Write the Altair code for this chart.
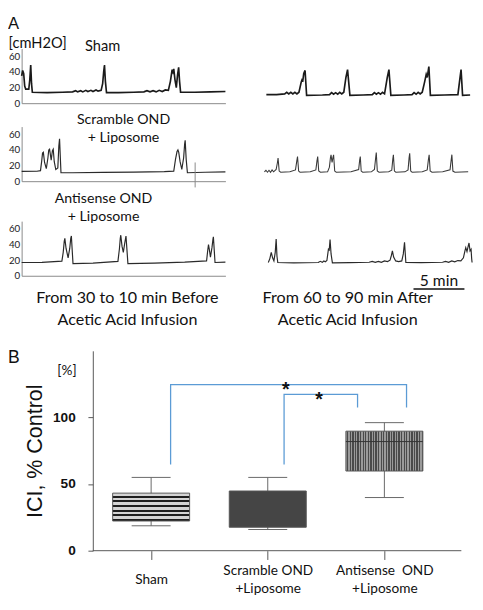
import json
import altair as alt
import pandas as pd

# ---------------- Panel A: cystometry traces (time in min, pressure in cmH2O) -------------
sham_pre_t = [0, 0.1, 0.2, 0.3, 0.4, 0.7, 0.8, 0.89, 0.97, 1.05, 2.5, 4.0, 5.0, 5.3, 5.5, 5.8, 6.0, 6.3, 6.5, 6.8,
              7.0, 7.3, 7.5, 7.8, 7.95, 8.05, 8.13, 8.22, 8.33, 9.5, 11.0, 12.0, 12.3, 12.6, 12.9, 13.2, 13.5, 13.8,
              14.1, 14.4, 14.6, 14.77, 14.85, 14.93, 15.05, 15.18, 15.3, 15.41, 15.5, 15.6, 17.0, 18.5, 20.0]
sham_pre_v = [35, 42, 38, 22, 18, 18, 30, 49, 25, 14, 13.5, 14, 14.5, 16, 14.5, 16, 14.5, 16.5, 15, 16.5,
              15, 17, 15.5, 16.5, 25, 40, 49, 28, 13.5, 13.5, 14, 14.5, 16, 14.5, 16, 14.5, 16.5, 15,
              17, 16.5, 28, 43, 40, 44, 30, 20, 36, 46, 28, 14, 14, 14.5, 15]

sham_post_t = [0, 1.0, 1.8, 2.0, 2.2, 2.4, 2.6, 2.8, 3.0, 3.2, 3.42, 3.5, 3.58, 3.67, 3.8, 3.95, 5.5, 6.2, 6.4, 6.6,
               6.8, 7.0, 7.2, 7.4, 7.6, 7.81, 7.97, 8.2, 9.5, 10.4, 10.6, 10.8, 11.0, 11.2, 11.4, 11.6, 11.87, 12.03,
               12.22, 13.5, 14.3, 14.5, 14.7, 14.9, 15.1, 15.3, 15.53, 15.69, 15.79, 15.95, 16.1, 17.5, 18.8, 18.98,
               19.11, 19.26, 20.0]
sham_post_v = [11, 11, 12, 14, 12, 14, 12, 14, 12, 14, 27, 30, 29, 38, 42, 10, 10.5, 11, 13.5, 11.5,
               13.5, 11.5, 14, 12, 14, 33, 43, 10, 10.5, 11, 13.5, 11.5, 13.5, 11.5, 14, 12, 33, 43,
               10, 10.5, 11, 13.5, 11.5, 14, 12, 14, 27, 37, 33, 47, 10, 10.5, 11, 30,
               43, 10, 10.5]

scr_pre_t = [0, 1.5, 1.85, 1.97, 2.05, 2.13, 2.25, 2.42, 2.58, 2.66, 2.74, 2.9, 3.02, 3.1, 3.2, 3.35, 3.55, 3.65,
             3.72, 3.86, 5.0, 8.0, 11.0, 14.0, 14.93, 15.1, 15.25, 15.34, 15.42, 15.55, 15.72, 15.9, 16.0, 16.05,
             16.15, 16.27, 18.0, 20.0]
scr_pre_v = [12.5, 12.8, 13.5, 26, 36, 37, 24, 16, 30, 40, 41, 27, 39, 41, 25, 15, 17, 45,
             54.5, 10.8, 10.8, 11.2, 11.6, 12.2, 12.9, 28, 38, 40, 37, 25, 15, 30, 48, 52.5,
             28, 10.8, 11.5, 12]
scr_marker_t = [17.03]
scr_marker_lo = [-8]
scr_marker_hi = [24]

scr_post_t = [0, 0.15, 0.3, 0.45, 0.6, 0.75, 0.9, 1.15, 1.28, 1.34, 1.45, 1.6, 2.5, 3.05, 3.18, 3.25, 3.36, 3.5,
              4.5, 5.05, 5.16, 5.23, 5.33, 5.5, 6.2, 6.38, 6.48, 6.54, 6.64, 6.72, 6.79, 6.9, 7.05, 8.5, 9.25,
              9.35, 9.41, 9.5, 9.65, 10.5, 10.8, 10.92, 10.98, 11.08, 11.25, 12.2, 12.5, 12.6, 12.66, 12.76,
              12.9, 13.8, 14.1, 14.2, 14.26, 14.36, 14.5, 15.5, 15.98, 16.1, 16.17, 16.27, 16.45, 17.5, 18.22,
              18.34, 18.4, 18.5, 18.7, 20.0]
scr_post_v = [12, 14, 11.5, 14, 11.5, 14.5, 12, 15, 24, 29.6, 13, 11.5, 12, 14.5, 26, 31.7, 13, 11.5,
              12, 14.5, 26, 31.7, 13, 11.5, 12, 18, 30, 33.8, 24, 30, 33.8, 13, 11.5, 12, 15,
              27, 31.7, 13, 11.5, 12, 15, 30, 36.7, 13, 11.5, 12, 14, 28, 33.8, 13,
              11.5, 12, 14.5, 30, 35.8, 13, 11.5, 12, 14.5, 28, 33.8, 13, 11.5, 12, 14.5,
              28, 34, 13, 11.5, 12]

ant_pre_t = [0, 2.0, 3.95, 4.08, 4.18, 4.24, 4.36, 4.56, 4.72, 4.82, 4.88, 5.04, 7.0, 9.45, 9.6, 9.68, 9.73,
             9.85, 9.98, 10.12, 10.24, 10.43, 13.0, 16.0, 18.15, 18.26, 18.34, 18.43, 18.53, 18.68, 18.78,
             18.82, 18.98, 20.0]
ant_pre_v = [17, 17.2, 18.7, 30, 44, 48, 35, 23, 35, 48, 51, 15.6, 16.2, 18.5, 35, 48, 52,
             38, 30, 42, 51, 15.6, 16.3, 17.5, 19, 32, 40, 33, 24, 36, 47,
             50, 17, 17.5]

ant_post_t = [0, 0.15, 0.29, 0.42, 0.55, 0.68, 0.77, 0.85, 0.93, 2.5, 4.9, 5.1, 5.3, 5.45, 5.6, 5.75, 5.9, 5.98,
              6.06, 6.16, 6.29, 8.0, 9.9, 10.2, 10.5, 10.8, 11.1, 11.4, 11.7, 11.95, 12.08, 12.18, 12.3, 12.5,
              12.8, 13.1, 13.25, 13.37, 13.5, 15.0, 17.1, 17.4, 17.7, 18.0, 18.3, 18.6, 18.9, 19.15, 19.3,
              19.38, 19.5, 19.62, 19.7, 19.8, 19.9, 19.96, 20.0]
ant_post_v = [17, 22, 30, 23, 19, 30, 47, 25, 17, 16.5, 17, 18.5, 17.2, 19, 18, 19.5, 34, 33,
              46.5, 28, 16.5, 16.8, 17.3, 18.5, 17.3, 18.5, 17.3, 19, 18.2, 20, 26, 32, 24, 19,
              18.2, 19, 28, 43, 17, 16.8, 17.3, 18.5, 17.3, 19, 17.8, 19.5, 19, 23, 32,
              36, 31, 38, 42, 32, 34, 22, 17]

y_ticks_A = [0, 20, 40, 60]
scale_bar_start = [14.25]
scale_bar_len = [5]
scale_bar_label = ["5 min"]

panel_labels = ["A", "B"]
unit_A = "[cmH2O]"
unit_B = "[%]"
row_titles = ["Sham", ["Scramble OND", "+ Liposome"], ["Antisense OND", "+ Liposome"]]
caption_pre = ["From 30 to 10 min Before", "Acetic Acid Infusion"]
caption_post = ["From 60 to 90 min After", "Acetic Acid Infusion"]

# ---------------- Panel B: ICI box plot (% control) -------------
groups = ["Sham", "Scramble OND", "Antisense OND"]
group_labels = [["Sham"], ["Scramble OND", "+Liposome"], ["Antisense\u00a0 OND", "+Liposome"]]
group_pos = [1, 2, 3]
w_min = [18.7, 15.9, 39.9]
q1 = [22.3, 17.6, 59.8]
med = [None, None, 81.9]          # medians of the first two boxes are not visible
q3 = [43.2, 44.8, 89.7]
w_max = [55.0, 55.0, 96.1]
y_ticks_B = [0, 50, 100]
y_title_B = "ICI, % Control"
x_range_B = [0.5, 3.66]

bracket_id = ["a", "a", "a", "a", "b", "b", "b", "b"]
bracket_step = [0, 1, 2, 3, 0, 1, 2, 3]
bracket_x = [1.167, 1.167, 3.19, 3.19, 2.14, 2.14, 2.77, 2.77]
bracket_y = [64.6, 124.6, 124.6, 107.5, 64.6, 117.4, 117.4, 107.5]
star_x = [2.155, 2.44]
star_y = [124.6, 117.4]


def trace_df(t, v):
    assert len(t) == len(v)
    return pd.DataFrame({"t": t, "v": v})


W, H = 209, 56
GAP = 34
TRACE_FONT = "Lato"
x_sc = alt.Scale(domain=[0, 20], nice=False, zero=False)
y_sc = alt.Scale(domain=[0, 70], nice=False)


def y_axis_A(unit=None):
    kw = dict(values=y_ticks_A, ticks=False, grid=False, labelFont=TRACE_FONT,
              labelFontSize=10, labelPadding=2, labelColor="#222", domainColor="#888",
              labelBaseline="middle")
    if unit is None:
        kw["title"] = None
    else:
        kw.update(title=unit, titleAngle=0, titleX=-14, titleY=-6, titleAlign="left",
                  titleBaseline="middle", titleFont=TRACE_FONT, titleFontSize=15,
                  titleFontWeight="normal", titleColor="#111")
    return alt.Axis(**kw)


def x_axis_A(title=None, domain=True, title_x=None):
    kw = dict(ticks=False, labels=False, grid=False, domain=domain, domainColor="#888")
    if title is None:
        kw["title"] = None
    else:
        kw.update(title=title, titleFont=TRACE_FONT, titleFontSize=16.5, titleFontWeight="normal",
                  titleColor="#111", titleLineHeight=23, titlePadding=14)
        if title_x is not None:
            kw.update(titleX=title_x, titleAlign="center", titleAnchor="start")
    return alt.Axis(**kw)


def left_trace(df, color, sw, xaxis, yaxis):
    return alt.Chart(df).mark_line(color=color, strokeWidth=sw).encode(
        x=alt.X("t:Q", scale=x_sc, axis=xaxis),
        y=alt.Y("v:Q", scale=y_sc, axis=yaxis),
    ).properties(width=W, height=H)


def right_trace(df, color, sw, xaxis=None):
    return alt.Chart(df).mark_line(color=color, strokeWidth=sw).encode(
        x=alt.X("t:Q", scale=x_sc, axis=xaxis),
        y=alt.Y("v:Q", scale=y_sc, axis=None),
    ).properties(width=W, height=H)


t1 = alt.TitleParams(row_titles[0], anchor="start", frame="group", font=TRACE_FONT, fontSize=15,
                     fontWeight="normal", color="#111", offset=-18, dx=65)
t2 = alt.TitleParams(row_titles[1], anchor="middle", frame="group", font=TRACE_FONT, fontSize=14.5,
                     fontWeight="normal", color="#111", lineHeight=18, offset=-19, dx=0)
t3 = alt.TitleParams(row_titles[2], anchor="middle", frame="group", font=TRACE_FONT, fontSize=14.5,
                     fontWeight="normal", color="#111", lineHeight=18, offset=-3, dx=-20.5)

row1 = alt.hconcat(
    left_trace(trace_df(sham_pre_t, sham_pre_v), "#1a1a1a", 1.7, x_axis_A(), y_axis_A(unit_A)).properties(title=t1),
    right_trace(trace_df(sham_post_t, sham_post_v), "#1a1a1a", 1.7),
    spacing=GAP,
    title=alt.TitleParams(panel_labels[0], anchor="start", frame="bounds", font="Liberation Sans", fontSize=17,
                          fontWeight="normal", color="#111", offset=3),
)

marker_df = pd.DataFrame({"t": scr_marker_t, "lo": scr_marker_lo, "hi": scr_marker_hi})
row2_left = alt.layer(
    left_trace(trace_df(scr_pre_t, scr_pre_v), "#2a2a2a", 1.2, x_axis_A(), y_axis_A()),
    alt.Chart(marker_df).mark_rule(color="#888", strokeWidth=1).encode(
        x=alt.X("t:Q", scale=x_sc, axis=x_axis_A()),
        y=alt.Y("lo:Q", scale=y_sc, axis=y_axis_A()), y2="hi:Q"),
).properties(width=W, height=H, title=t2)
row2 = alt.hconcat(row2_left, right_trace(trace_df(scr_post_t, scr_post_v), "#3a3a3a", 1.1), spacing=GAP)

row3_left = left_trace(trace_df(ant_pre_t, ant_pre_v), "#2a2a2a", 1.2, x_axis_A(caption_pre, title_x=108),
                       y_axis_A()).properties(title=t3)
post_axis = x_axis_A(caption_post, domain=False, title_x=81)
sb_df = pd.DataFrame({"start": scale_bar_start, "len": scale_bar_len, "label": scale_bar_label})
row3_right = alt.layer(
    right_trace(trace_df(ant_post_t, ant_post_v), "#2a2a2a", 1.2, post_axis),
    alt.Chart(sb_df).transform_calculate(end="datum.start + datum.len").mark_rule(
        color="#111", strokeWidth=1.5).encode(
        x=alt.X("start:Q", scale=x_sc, axis=post_axis), x2="end:Q",
        y=alt.Y(datum=-17, scale=y_sc, axis=None)),
    alt.Chart(sb_df).transform_calculate(mid="datum.start + datum.len / 2").mark_text(
        font=TRACE_FONT, fontSize=16, color="#111", baseline="middle").encode(
        x=alt.X("mid:Q", scale=x_sc, axis=post_axis),
        y=alt.Y(datum=-7, scale=y_sc, axis=None), text="label:N"),
).properties(width=W, height=H)
row3 = alt.hconcat(row3_left, row3_right, spacing=GAP)

panel_A = alt.concat(row1, alt.concat(row2, row3, columns=1, spacing=3), columns=1, spacing=4)

# ---------------- Panel B chart ----------------
# Plot area of B starts at the same x as the trace plots; the y axis sits B_INSET px inside it.
B_PLOT_W = 378
B_INSET = 73
units_per_px = (x_range_B[1] - x_range_B[0]) / B_PLOT_W
x_lo_B = x_range_B[0] - B_INSET * units_per_px

box_df = pd.DataFrame({"group": groups, "pos": group_pos, "wmin": w_min, "q1": q1, "med": med,
                       "q3": q3, "wmax": w_max})
br_df = pd.DataFrame({"bracket": bracket_id, "step": bracket_step, "x": bracket_x, "y": bracket_y})
star_df = pd.DataFrame({"x": star_x, "y": star_y})
base_line_df = pd.DataFrame({"x": [x_range_B[0]], "x2": [x_range_B[1]], "y": [0]})

label_expr = "datum.value == {0} ? {1} : datum.value == {2} ? {3} : {4}".format(
    group_pos[0], json.dumps(group_labels[0], ensure_ascii=False),
    group_pos[1], json.dumps(group_labels[1], ensure_ascii=False),
    json.dumps(group_labels[2], ensure_ascii=False))

xs_B = alt.Scale(domain=[x_lo_B, x_range_B[1]], nice=False, zero=False)
ys_B = alt.Scale(domain=[0, 150], nice=False)
x_axis_B = alt.Axis(values=group_pos, labelExpr=label_expr, tickSize=9, tickColor="#555", domain=False,
                    labelFont="Lato", labelFontSize=14, labelColor="#111", labelLineHeight=19,
                    labelBaseline="middle",
                    labelPadding=alt.condition(f"datum.value == {group_pos[0]}", alt.value(21), alt.value(11)),
                    labelOverlap=False, labelFlush=False, grid=False, title=None)
y_axis_B = alt.Axis(values=y_ticks_B, tickSize=5, tickColor="#555", domainColor="#555", offset=-B_INSET,
                    labelFont="Liberation Sans", labelFontWeight="bold", labelFontSize=14, labelColor="#111",
                    labelPadding=13, grid=False, title=y_title_B, titleFont="Liberation Sans",
                    titleFontSize=22, titleFontWeight="normal", titleColor="#111", titlePadding=6)
unit_axis_B = alt.Axis(orient="left", domain=False, ticks=False, labels=False, grid=False, title=unit_B,
                       offset=-B_INSET, titleAngle=0, titleX=-27, titleY=20, titleAlign="center",
                       titleBaseline="middle", titleFont="Lato", titleFontSize=14, titleFontWeight="normal",
                       titleColor="#111")

BOX_HALF = 0.33
CAP_HALF = 0.167

base = alt.Chart(box_df)
baseline_B = alt.Chart(base_line_df).mark_rule(color="#555", strokeWidth=1).encode(
    x=alt.X("x:Q", scale=xs_B, axis=x_axis_B), x2="x2:Q", y=alt.Y("y:Q", scale=ys_B, axis=y_axis_B))
whisk = base.mark_rule(color="#666", strokeWidth=1).encode(
    x=alt.X("pos:Q", scale=xs_B, axis=x_axis_B), y=alt.Y("wmin:Q", scale=ys_B, axis=y_axis_B), y2="wmax:Q")
caps_hi = base.transform_calculate(lo=f"datum.pos - {CAP_HALF}", hi=f"datum.pos + {CAP_HALF}").mark_rule(
    color="#666", strokeWidth=1).encode(
    x=alt.X("lo:Q", scale=xs_B, axis=x_axis_B), x2="hi:Q", y=alt.Y("wmax:Q", scale=ys_B, axis=y_axis_B))
caps_lo = base.transform_calculate(lo=f"datum.pos - {CAP_HALF}", hi=f"datum.pos + {CAP_HALF}").mark_rule(
    color="#666", strokeWidth=1).encode(
    x=alt.X("lo:Q", scale=xs_B, axis=x_axis_B), x2="hi:Q", y=alt.Y("wmin:Q", scale=ys_B, axis=y_axis_B))


def stripes(c1, c2, n, frac, vertical):
    stops = []
    for i in range(n):
        a, b, c = i / n, (i + frac) / n, (i + 1) / n
        stops += [alt.GradientStop(color=c1, offset=a), alt.GradientStop(color=c1, offset=b),
                  alt.GradientStop(color=c2, offset=b), alt.GradientStop(color=c2, offset=c)]
    if vertical:
        return alt.LinearGradient(gradient="linear", stops=stops, x1=0, x2=1, y1=0, y2=0)
    return alt.LinearGradient(gradient="linear", stops=stops, x1=0, x2=0, y1=0, y2=1)


box_fills = [stripes("#d4d4d4", "#1e1e1e", 6, 0.55, False),
             "#454545",
             stripes("#9a9a9a", "#4a4a4a", 30, 0.5, True)]


def box_layer(i):
    return base.transform_filter(alt.datum.pos == group_pos[i]).transform_calculate(
        lo=f"datum.pos - {BOX_HALF}", hi=f"datum.pos + {BOX_HALF}").mark_bar(
        fill=box_fills[i], stroke="#555", strokeWidth=1).encode(
        x=alt.X("lo:Q", scale=xs_B, axis=x_axis_B), x2="hi:Q",
        y=alt.Y("q1:Q", scale=ys_B, axis=y_axis_B), y2="q3:Q")


medians = base.transform_filter("isValid(datum.med)").transform_calculate(
    lo=f"datum.pos - {BOX_HALF}", hi=f"datum.pos + {BOX_HALF}").mark_rule(
    color="#333", strokeWidth=1).encode(
    x=alt.X("lo:Q", scale=xs_B, axis=x_axis_B), x2="hi:Q", y=alt.Y("med:Q", scale=ys_B, axis=y_axis_B))

brackets = alt.Chart(br_df).mark_line(color="#5b9bd5", strokeWidth=1.3).encode(
    x=alt.X("x:Q", scale=xs_B, axis=x_axis_B), y=alt.Y("y:Q", scale=ys_B, axis=y_axis_B),
    detail="bracket:N", order="step:Q")
stars = alt.Chart(star_df).mark_text(text="*", font="Liberation Sans", fontSize=20, fontWeight="bold",
                                     color="#111", baseline="middle", dy=6).encode(
    x=alt.X("x:Q", scale=xs_B, axis=x_axis_B), y=alt.Y("y:Q", scale=ys_B, axis=unit_axis_B))

main_B = alt.layer(baseline_B, whisk, caps_hi, caps_lo, box_layer(0), box_layer(1), box_layer(2),
                   medians, brackets)
chart_B = alt.layer(main_B, stars).resolve_axis(y="independent").properties(
    width=B_PLOT_W + B_INSET, height=205,
    title=alt.TitleParams(panel_labels[1], anchor="start", frame="group", font="Liberation Sans",
                          fontSize=18, fontWeight="normal", color="#111", dx=-14, offset=-16))

chart = alt.concat(panel_A, chart_B, columns=1, spacing=21).properties(
    padding=0).configure_view(stroke=None)

chart.save("out.html", embed_options={"renderer": "svg", "actions": False})
